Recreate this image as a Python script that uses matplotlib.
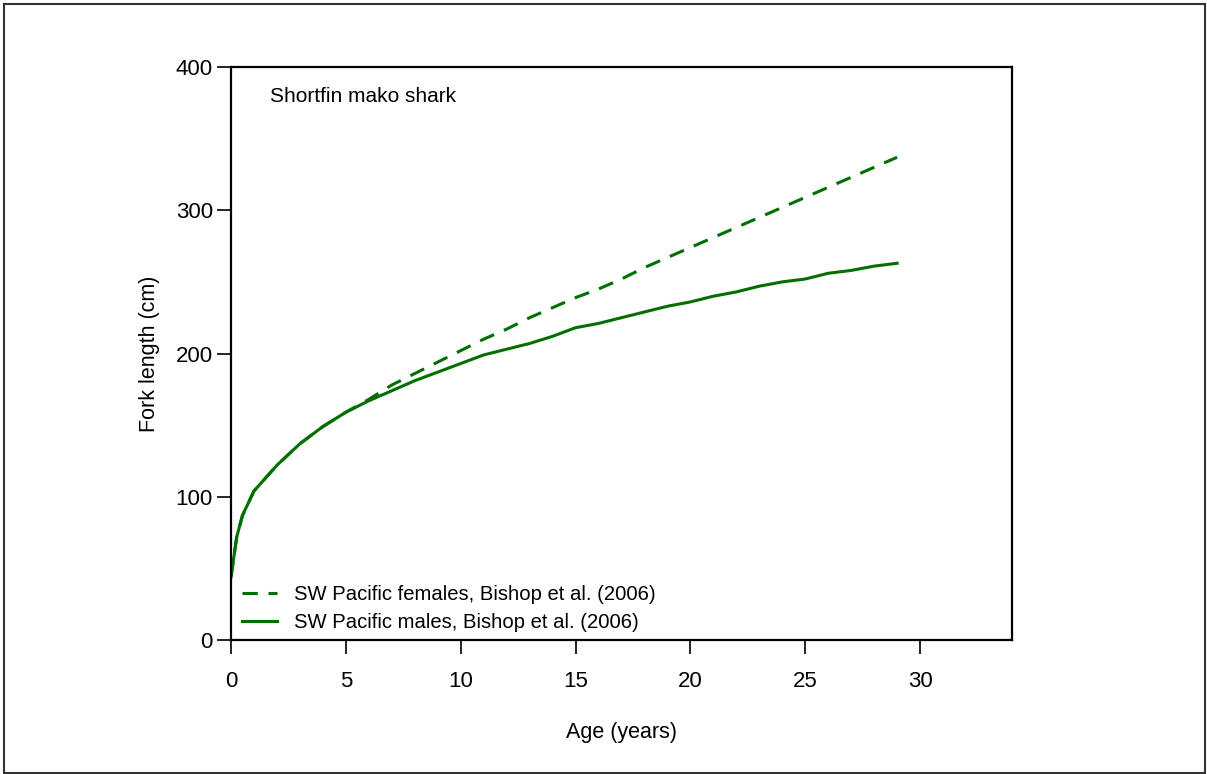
import matplotlib
matplotlib.use('Agg')
import matplotlib.pyplot as plt
from matplotlib.patches import Rectangle

plt.rcParams['font.family'] = ['Liberation Sans', 'DejaVu Sans']

### ages and fork lengths
age = [0, 0.25, 0.5, 1, 2, 3, 4, 5, 6, 7, 8, 9, 10, 11, 12, 13, 14, 15,
       16, 17, 18, 19, 20, 21, 22, 23, 24, 25, 26, 27, 28, 29]
fl_females = [44, 72, 87, 104, 122, 137, 149, 159, 168, 178, 186, 194, 202,
              210, 217, 225, 232, 239, 245, 252, 260, 267, 274, 281, 288,
              295, 302, 309, 316, 323, 330, 337]
fl_males = [44, 72, 87, 104, 122, 137, 149, 159, 167, 174, 181, 187, 193,
            199, 203, 207, 212, 218, 221, 225, 229, 233, 236, 240, 243,
            247, 250, 252, 256, 258, 261, 263]

x_ticks = [0, 5, 10, 15, 20, 25, 30]
y_ticks = [0, 100, 200, 300, 400]
line_color = '#006f00'

fig = plt.figure(figsize=(12.07, 7.74), dpi=100)
ax = fig.add_axes([231 / 1207, 1 - 640 / 774, (1012 - 231) / 1207, (640 - 67) / 774])

ax.plot(age, fl_females, color=line_color, lw=2.2, linestyle=(0, (5, 3.5)),
        label='SW Pacific females, Bishop et al. (2006)')
ax.plot(age, fl_males, color=line_color, lw=2.2,
        label='SW Pacific males, Bishop et al. (2006)')

ax.set_xlim(0, 34)
ax.set_ylim(0, 400)
ax.set_xticks(x_ticks)
ax.set_yticks(y_ticks)
ax.tick_params(axis='both', direction='out', length=10, width=1.2, labelsize=16)
ax.tick_params(axis='x', pad=12)
ax.tick_params(axis='y', pad=3)
for s in ax.spines.values():
    s.set_linewidth(1.6)

ax.set_xlabel('Age (years)', fontsize=15.5, labelpad=22)
ax.set_ylabel('Fork length (cm)', fontsize=15.5, labelpad=11)

ax.text(39 / 781, 1 - 30 / 573, 'Shortfin mako shark', transform=ax.transAxes,
        fontsize=15, va='center', ha='left')

ax.legend(loc='lower left', frameon=False, fontsize=14.6, handlelength=1.7,
          handletextpad=0.85, borderaxespad=0.0, labelspacing=0.45,
          bbox_to_anchor=(0.004, 0.0))

# outer frame round the whole picture
fig.patches.append(Rectangle((4 / 1207, 1 / 774), 1201 / 1207, 769 / 774,
                             transform=fig.transFigure, fill=False,
                             edgecolor='#333333', lw=1.5))

fig.savefig('out.png', dpi=100)
